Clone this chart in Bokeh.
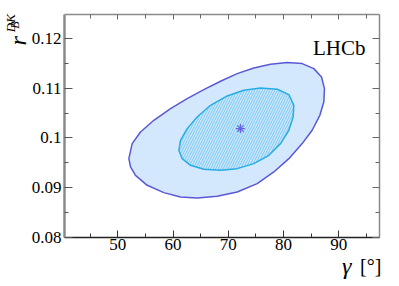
import math
from bokeh.plotting import figure
from bokeh.models import LinearAxis, FixedTicker, Label, Range1d
from bokeh.embed import file_html
from bokeh.resources import INLINE

# ---- data ----
x_ticks = [50, 60, 70, 80, 90]
x_minor = [45, 55, 65, 75, 85, 95]
y_ticks = [0.08, 0.09, 0.1, 0.11, 0.12]
y_minor = [0.085, 0.095, 0.105, 0.115]
y_tick_labels = ["0.08", "0.09", "0.1", "0.11", "0.12"]

# 95% CL contour (outer)
outer_gamma = [52.00, 52.60, 54.11, 56.52, 59.54, 62.56, 65.57, 68.59, 71.61, 74.62,
               77.64, 80.66, 83.37, 85.48, 86.87, 87.41, 87.29, 86.57, 85.18, 83.37,
               80.96, 78.24, 75.23, 71.61, 67.99, 64.37, 61.35, 58.33, 55.32, 53.20, 52.30]
outer_r = [0.09585, 0.09887, 0.10121, 0.10356, 0.10590, 0.10791, 0.10972, 0.11140, 0.11294, 0.11408,
           0.11481, 0.11515, 0.11495, 0.11394, 0.11227, 0.10992, 0.10724, 0.10456, 0.10155, 0.09887,
           0.09585, 0.09317, 0.09083, 0.08915, 0.08828, 0.08795, 0.08815, 0.08902, 0.09049, 0.09250, 0.09418]

# 68% CL contour (inner)
inner_gamma = [61.05, 61.35, 62.56, 64.37, 66.78, 69.80, 72.81, 75.83, 78.85, 80.96,
               81.86, 81.74, 80.96, 79.45, 77.34, 74.62, 71.61, 68.59, 65.57, 63.16, 61.65]
inner_r = [0.09753, 0.09954, 0.10188, 0.10423, 0.10657, 0.10845, 0.10959, 0.11006, 0.10979, 0.10872,
           0.10657, 0.10423, 0.10155, 0.09887, 0.09652, 0.09485, 0.09384, 0.09351, 0.09371, 0.09451, 0.09585]

best_gamma = [72.2]
best_r = [0.1019]

# axis box (data) and its place on the canvas (pixels)
X0, X1 = 40.35, 97.37
Y0, Y1 = 0.08, 0.12482
W, H = 391, 282
BOX_L, BOX_R, BOX_T, BOX_B = 64, 379, 14, 237

kx = (BOX_R - BOX_L) / (X1 - X0)
ky = (BOX_B - BOX_T) / (Y1 - Y0)
xr = Range1d(X0 - BOX_L / kx, X0 - BOX_L / kx + W / kx)
yr = Range1d(Y1 + BOX_T / ky - H / ky, Y1 + BOX_T / ky)

SERIF = "Liberation Serif"

p = figure(width=W, height=H, output_backend="svg", toolbar_location=None, title=None,
           x_range=xr, y_range=yr,
           min_border_left=0, min_border_right=0, min_border_top=0, min_border_bottom=0)
p.grid.visible = False
p.outline_line_color = None
p.background_fill_color = "white"
p.border_fill_color = "white"

p.patch(outer_gamma, outer_r, fill_color="#d3e8fd", line_color="#5b58d6", line_width=1.5)
p.patch(inner_gamma, inner_r, fill_color="#cbe7fb", hatch_pattern="/", hatch_color="#7cc8f2",
        hatch_scale=5, hatch_weight=1.0, line_color="#25ade4", line_width=1.5)
p.scatter(best_gamma, best_r, marker="asterisk", size=9, line_color="#6a64e0", line_width=1.2)

xt = FixedTicker(ticks=x_ticks, minor_ticks=x_minor)
yt = FixedTicker(ticks=y_ticks, minor_ticks=y_minor)

xa = p.xaxis[0]
xa.ticker = xt
xa.fixed_location = Y0
xa.bounds = (X0, X1)
xa.axis_line_color = "#222222"
xa.axis_line_width = 1.5
xa.major_tick_in = 7
xa.major_tick_out = 0
xa.minor_tick_in = 4
xa.minor_tick_out = 0
xa.major_tick_line_color = "#333333"
xa.minor_tick_line_color = "#333333"
xa.major_label_text_font = SERIF
xa.major_label_text_font_size = "17px"
xa.major_label_text_color = "black"
xa.major_label_standoff = 1

ya = p.yaxis[0]
ya.ticker = yt
ya.fixed_location = X0
ya.bounds = (Y0, Y1)
ya.major_label_overrides = {v: s for v, s in zip(y_ticks, y_tick_labels)}
ya.axis_line_color = "#8a8a8a"
ya.axis_line_width = 2.5
ya.major_tick_in = 8
ya.major_tick_out = 0
ya.minor_tick_in = 4
ya.minor_tick_out = 0
ya.major_tick_line_color = "#555555"
ya.minor_tick_line_color = "#555555"
ya.major_label_text_font = SERIF
ya.major_label_text_font_size = "17px"
ya.major_label_text_color = "black"
ya.major_label_standoff = 3

for loc in ("above", "right"):
    if loc == "above":
        ax = LinearAxis(ticker=xt, fixed_location=Y1, bounds=(X0, X1))
        ax.major_tick_in = 5
    else:
        ax = LinearAxis(ticker=yt, fixed_location=X1, bounds=(Y0, Y1))
        ax.major_tick_in = 7
    ax.axis_line_color = "#8a8a8a"
    ax.axis_line_width = 1.5
    ax.major_tick_out = 0
    ax.minor_tick_in = 4
    ax.minor_tick_out = 0
    ax.major_tick_line_color = "#666666"
    ax.minor_tick_line_color = "#666666"
    ax.major_label_text_color = None
    ax.major_label_text_alpha = 0
    p.add_layout(ax, loc)

SHIFT = 6.5  # measured offset of the label baseline

def lab(text, x, y, size, style="normal", angle=0.0):
    # x: pixels from the canvas left, y: pixels from the canvas top (text baseline)
    if angle:
        x -= SHIFT
    else:
        y -= SHIFT
    p.add_layout(Label(x=x, y=H - y, x_units="screen", y_units="screen", text=text,
                       text_font=SERIF, text_font_size=size, text_font_style=style,
                       angle=angle, text_align="left", text_baseline="alphabetic",
                       text_color="black"))

# LHCb tag
lab("LHCb", 312.5, 53.5, "21px")
# x-axis title
lab("\u03b3", 341.5, 272, "24px", style="italic")
lab("[\u00b0]", 359.5, 272, "20px")
# y-axis title r_B^{DK}
lab("r", 23.5, 45, "24px", style="italic", angle=math.pi / 2)
lab("DK", 16, 31.7, "13px", style="italic", angle=math.pi / 2)
lab("B", 20.7, 28.3, "12px", style="italic", angle=math.pi / 2)

open("out.html", "w").write(file_html(p, INLINE))
